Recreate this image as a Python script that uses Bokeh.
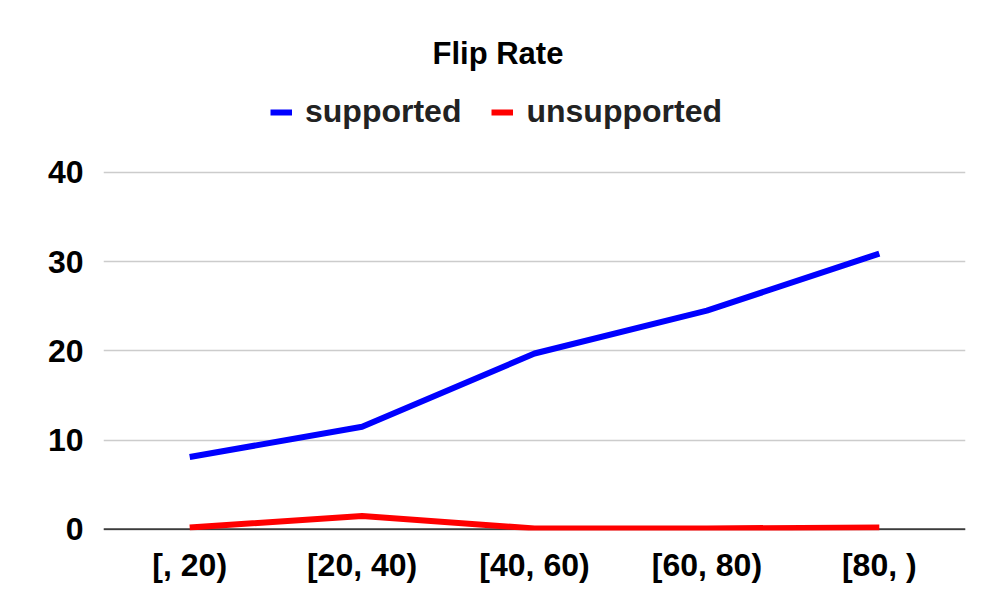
from bokeh.plotting import figure
from bokeh.models import Legend, LegendItem, Span, FixedTicker
from bokeh.embed import file_html
from bokeh.resources import INLINE

categories = ["[, 20)", "[20, 40)", "[40, 60)", "[60, 80)", "[80, )"]
supported = [8.1, 11.5, 19.7, 24.5, 30.9]
unsupported = [0.2, 1.5, 0.1, 0.1, 0.2]
y_ticks = [0, 10, 20, 30, 40]

FONT = "Liberation Sans"

# frame extends above the top gridline so the legend can sit inside it
p = figure(width=981, height=600, x_range=categories, y_range=(-0.134, 50.29),
           output_backend="svg", toolbar_location=None,
           min_border_left=103, min_border_right=16, min_border_top=80, min_border_bottom=70)
p.outline_line_color = None
p.background_fill_color = "white"
p.border_fill_color = "white"

p.title.text = "Flip Rate"
p.title.text_font = FONT
p.title.text_font_size = "31px"
p.title.text_font_style = "bold"
p.title.text_color = "#000000"
p.title.align = "left"
p.title.offset = 329
p.title.standoff = 19

p.ygrid.grid_line_color = "#cccccc"
p.ygrid.grid_line_width = 1.5
p.xgrid.grid_line_color = None
p.yaxis.ticker = FixedTicker(ticks=y_ticks)

for ax in (p.xaxis[0], p.yaxis[0]):
    ax.axis_line_color = None
    ax.major_tick_line_color = None
    ax.minor_tick_line_color = None
    ax.major_tick_out = 0
    ax.major_tick_in = 0
    ax.major_label_text_font = FONT
    ax.major_label_text_font_size = "32px"
    ax.major_label_text_font_style = "bold"
    ax.major_label_text_color = "#000000"
p.yaxis.major_label_standoff = 20
p.xaxis.major_label_standoff = 16

zero = Span(location=0, dimension="width", line_color="#3c3c3c", line_width=2, level="underlay")
p.add_layout(zero)

r1 = p.line(categories, supported, line_color="#0000ff", line_width=6)
r2 = p.line(categories, unsupported, line_color="#ff0000", line_width=6)

legend = Legend(items=[LegendItem(label="supported", renderers=[r1]),
                       LegendItem(label="unsupported", renderers=[r2])],
                orientation="horizontal", location=(167, 400),
                glyph_width=22, glyph_height=20, label_standoff=13, spacing=30,
                padding=0, margin=0, border_line_alpha=0, background_fill_alpha=0,
                label_text_font=FONT, label_text_font_size="32px",
                label_text_font_style="bold", label_text_color="#222222")
p.add_layout(legend, "center")

open("out.html", "w").write(file_html(p, INLINE))
